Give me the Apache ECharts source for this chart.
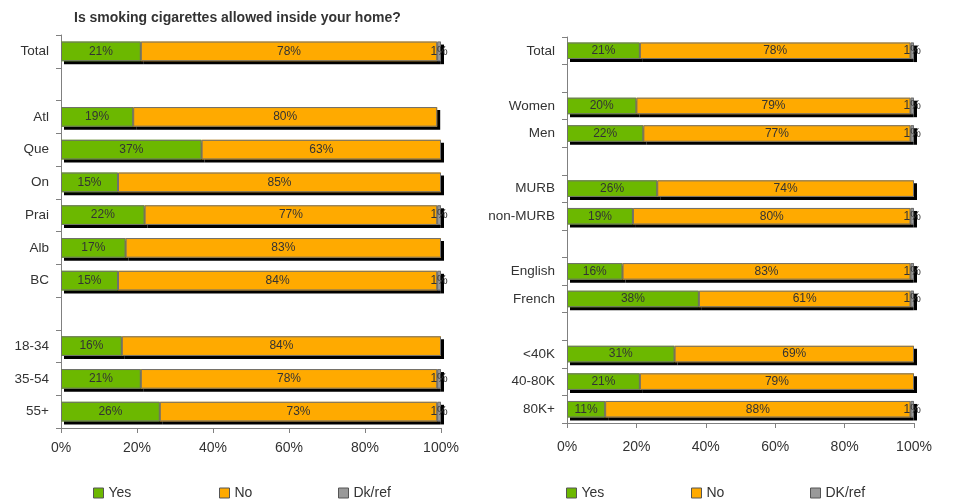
<!DOCTYPE html>
<html>
<head>
<meta charset="utf-8">
<script src="https://cdn.jsdelivr.net/npm/echarts@6/dist/echarts.min.js"></script>
<style>
  html, body { margin: 0; padding: 0; background: #fff; }
  #chart { width: 953px; height: 501px; }
</style>
</head>
<body>
<div id="chart"></div>
<script>
// left panel: region and age ('_' rows are blank spacers)
const leftCats = ['Total', '_1', 'Atl', 'Que', 'On', 'Prai', 'Alb', 'BC', '_2', '18-34', '35-54', '55+'];
const leftYes = [21, null, 19, 37, 15, 22, 17, 15, null, 16, 21, 26];
const leftNo = [78, null, 80, 63, 85, 77, 83, 84, null, 84, 78, 73];
const leftDk = [1, null, null, null, null, 1, null, 1, null, null, 1, 1];

// right panel: gender, dwelling, language, income
const rightCats = ['Total', '_1', 'Women', 'Men', '_2', 'MURB', 'non-MURB', '_3', 'English', 'French', '_4', '<40K', '40-80K', '80K+'];
const rightYes = [21, null, 20, 22, null, 26, 19, null, 16, 38, null, 31, 21, 11];
const rightNo = [78, null, 79, 77, null, 74, 80, null, 83, 61, null, 69, 79, 88];
const rightDk = [1, null, 1, 1, null, null, 1, null, 1, 1, null, null, null, 1];

const xTicks = [0, 20, 40, 60, 80, 100];

const colors = { yes: '#6cb800', no: '#ffaa00', dk: '#999999' };
const font = 'Liberation Sans, Arial, sans-serif';

// shadow layer: plain fill with black drop shadow, sits under the bordered bars
function shadowSeries(name, data, color, idx) {
  return {
    name: name,
    type: 'bar',
    stack: 'shadow' + idx,
    xAxisIndex: idx,
    yAxisIndex: idx,
    data: data,
    barWidth: '60%',
    barGap: '-100%',
    itemStyle: {
      color: color,
      borderWidth: 0,
      shadowColor: '#000',
      shadowOffsetX: 3,
      shadowOffsetY: 3,
      shadowBlur: 0
    },
    label: { show: false },
    emphasis: { disabled: true },
    silent: true
  };
}

function barSeries(name, data, color, idx) {
  return {
    name: name,
    type: 'bar',
    stack: 'bar' + idx,
    xAxisIndex: idx,
    yAxisIndex: idx,
    data: data,
    barWidth: '60%',
    barGap: '-100%',
    itemStyle: {
      color: color,
      borderColor: '#6f6f6f',
      borderWidth: 1
    },
    label: {
      show: true,
      position: 'inside',
      color: '#333',
      fontSize: 12,
      fontFamily: font,
      formatter: p => (p.value ? p.value + '%' : '')
    },
    emphasis: { disabled: true }
  };
}

function yAxis(cats, idx) {
  return {
    type: 'category',
    gridIndex: idx,
    data: cats,
    inverse: true,
    axisLine: { lineStyle: { color: '#808080' } },
    axisTick: { show: true, length: 5, lineStyle: { color: '#808080' } },
    axisLabel: {
      color: '#333',
      fontSize: 13.5,
      fontFamily: font,
      margin: 12,
      formatter: v => (v.startsWith('_') ? '' : v)
    }
  };
}

function xAxis(idx, margin) {
  return {
    type: 'value',
    gridIndex: idx,
    min: xTicks[0],
    max: xTicks[xTicks.length - 1],
    interval: 20,
    splitLine: { show: false },
    axisLine: { show: true, lineStyle: { color: '#808080' } },
    axisTick: { show: true, length: 5, lineStyle: { color: '#808080' } },
    axisLabel: {
      color: '#333',
      fontSize: 14,
      fontFamily: font,
      margin: margin,
      formatter: v => v + '%'
    }
  };
}

function legendItem(name, left) {
  return {
    data: [name],
    left: left,
    top: 481,
    itemWidth: 10,
    itemHeight: 10,
    itemGap: 0,
    icon: 'rect',
    selectedMode: false,
    itemStyle: { borderColor: '#555', borderWidth: 1, shadowColor: 'transparent', shadowOffsetX: 0, shadowOffsetY: 0 },
    textStyle: { color: '#333', fontSize: 14, fontFamily: font }
  };
}

function panelSeries(names, yes, no, dk, idx) {
  return [
    shadowSeries(names[0], yes, colors.yes, idx),
    shadowSeries(names[1], no, colors.no, idx),
    shadowSeries(names[2], dk, colors.dk, idx),
    barSeries(names[0], yes, colors.yes, idx),
    barSeries(names[1], no, colors.no, idx),
    barSeries(names[2], dk, colors.dk, idx)
  ];
}

const chart = echarts.init(document.getElementById('chart'));
chart.setOption({
  animation: false,
  title: {
    text: 'Is smoking cigarettes allowed inside your home?',
    left: 69,
    top: 6,
    textStyle: { color: '#333', fontSize: 14, fontWeight: 'bold', fontFamily: font }
  },
  grid: [
    { left: 61, top: 35, width: 380, height: 393 },
    { left: 567, top: 37, width: 347, height: 386 }
  ],
  xAxis: [xAxis(0, 13), xAxis(1, 17)],
  yAxis: [yAxis(leftCats, 0), yAxis(rightCats, 1)],
  legend: [
    legendItem('Yes', 88),
    legendItem('No', 214),
    legendItem('Dk/ref', 333),
    legendItem('Yes', 561),
    legendItem('No', 686),
    legendItem('DK/ref', 805)
  ],
  series: panelSeries(['Yes', 'No', 'Dk/ref'], leftYes, leftNo, leftDk, 0)
    .concat(panelSeries(['Yes', 'No', 'DK/ref'], rightYes, rightNo, rightDk, 1))
});
</script>
</body>
</html>
